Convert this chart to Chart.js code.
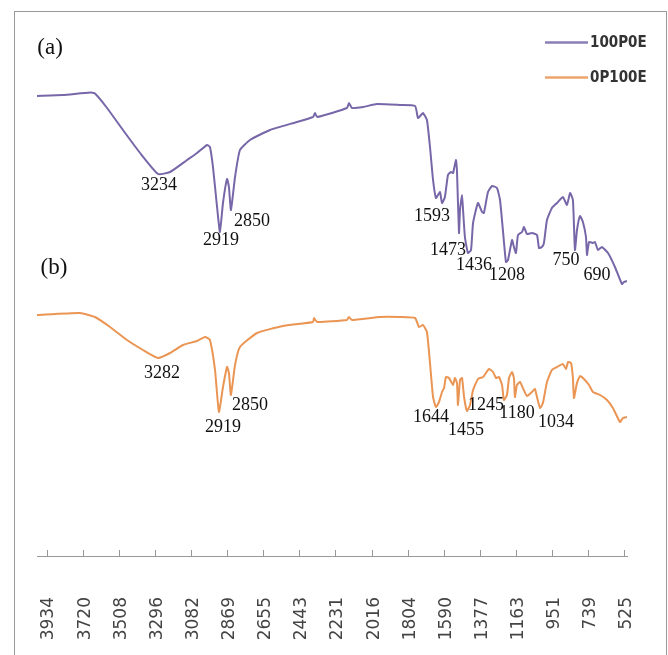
<!DOCTYPE html>
<html lang="en">
<head>
    <meta charset="UTF-8">
    <title>FTIR spectra</title>
    <script src="https://cdn.jsdelivr.net/npm/chart.js"></script>
    <style>
        html, body { margin: 0; padding: 0; background: #fff; overflow: hidden; }
        .chart-container { position: absolute; left: 0; top: 0; width: 668px; height: 655px; }
        .frame { position: absolute; left: 14px; top: 11px; width: 651px; height: 660px; border: 1px solid #999; pointer-events: none; }
    </style>
</head>
<body>
    <div class="chart-container">
        <canvas id="ftirChart"></canvas>
    </div>
    <div class="frame"></div>
    <script>
        // wavenumber ticks (cm-1)
        const tickValues = [3934, 3720, 3508, 3296, 3082, 2869, 2655, 2443, 2231, 2016, 1804, 1590, 1377, 1163, 951, 739, 525];

        // (a) 100P0E - wavenumber / transmittance (offset)
        const wnA = [3993, 3840, 3680, 3651, 3582, 3486, 3385, 3279, 3208, 3108, 3049, 2990, 2973, 2955, 2931, 2914, 2896, 2872, 2861, 2849,
            2825, 2796, 2737, 2619, 2460, 2365, 2353, 2341, 2165, 2153, 2135, 2070, 1988, 1852, 1763, 1746, 1728, 1716, 1693, 1675,
            1657, 1640, 1628, 1616, 1604, 1587, 1569, 1551, 1539, 1522, 1516, 1504, 1498, 1486, 1480, 1469, 1451, 1433, 1421, 1392,
            1368, 1357, 1333, 1309, 1280, 1262, 1245, 1227, 1215, 1191, 1180, 1168, 1156, 1132, 1121, 1103, 1074, 1044, 1032, 1015,
            1003, 985, 956, 926, 891, 867, 849, 832, 820, 808, 790, 773, 755, 749, 737, 714, 702, 684, 661, 625, 584, 543, 531, 513];
        const tA = [92.0, 92.2, 92.7, 92.5, 89.7, 85.2, 80.6, 76.4, 76.8, 79.2, 80.6, 82.2, 81.8, 77.8, 69.8, 64.8, 70.6, 75.4, 73.8, 69.2,
            75.8, 81.2, 83.2, 85.2, 86.8, 87.8, 88.6, 87.8, 89.6, 90.6, 89.6, 89.8, 90.4, 90.2, 90.0, 87.6, 88.2, 88.6, 87.2, 81.8,
            75.2, 71.6, 72.2, 72.8, 70.6, 71.8, 76.2, 76.8, 76.6, 79.2, 77.2, 64.6, 69.2, 72.2, 69.2, 63.8, 60.6, 61.2, 66.6, 70.6,
            68.8, 68.6, 72.8, 74.0, 73.6, 71.2, 65.2, 58.8, 59.2, 63.2, 61.8, 60.6, 64.2, 64.8, 65.8, 64.4, 64.6, 64.2, 61.6, 61.8,
            62.6, 67.2, 69.6, 70.6, 71.8, 70.2, 72.6, 71.2, 61.2, 65.2, 68.0, 66.8, 63.8, 60.2, 62.8, 62.6, 62.8, 61.2, 61.8, 60.6, 57.8, 54.4, 54.8, 55.0];

        // (b) 0P100E
        const wnB = [3993, 3739, 3651, 3562, 3462, 3368, 3279, 3208, 3132, 3049, 3002, 2973, 2943, 2920, 2896, 2872, 2861, 2849, 2825, 2796,
            2695, 2542, 2365, 2359, 2341, 2165, 2153, 2135, 1970, 1852, 1763, 1740, 1716, 1693, 1675, 1657, 1640, 1622, 1604, 1592,
            1581, 1563, 1539, 1528, 1516, 1510, 1498, 1486, 1474, 1457, 1439, 1421, 1392, 1362, 1345, 1327, 1303, 1286, 1268, 1250,
            1239, 1221, 1209, 1191, 1180, 1174, 1162, 1144, 1127, 1103, 1074, 1056, 1044, 1026, 1009, 985, 956, 926, 891, 873,
            861, 843, 832, 826, 808, 790, 767, 737, 714, 672, 631, 596, 554, 537, 513];
        const tB = [48.2, 48.6, 47.8, 45.8, 43.2, 41.2, 39.6, 40.6, 42.2, 43.0, 43.8, 43.2, 37.2, 28.8, 33.8, 37.8, 36.6, 32.2, 38.2, 41.8,
            44.6, 46.0, 46.8, 47.6, 46.8, 47.2, 47.8, 47.2, 47.8, 47.8, 47.6, 45.8, 46.2, 44.8, 38.6, 31.8, 29.8, 30.8, 32.8, 33.6,
            35.8, 35.6, 34.2, 35.6, 34.6, 30.2, 35.2, 35.6, 31.8, 29.0, 30.2, 33.2, 35.4, 35.8, 36.6, 37.4, 36.8, 35.6, 35.8, 34.2,
            31.2, 32.2, 35.6, 36.8, 35.6, 31.8, 34.2, 34.8, 33.6, 32.0, 32.8, 33.4, 31.8, 29.6, 30.6, 34.8, 37.2, 37.8, 38.4, 37.4,
            38.8, 38.6, 35.6, 31.6, 34.6, 36.0, 35.4, 34.2, 32.8, 32.2, 31.2, 29.6, 26.8, 27.6, 27.8];

        // peak annotations: text, wavenumber, transmittance
        const peakText = ['3234', '2919', '2850', '1593', '1473', '1436', '1208', '750', '690',
            '3282', '2919', '2850', '1644', '1455', '1245', '1180', '1034'];
        const peakWn = [3273, 2908, 2725, 1663, 1569, 1416, 1221, 873, 690,
            3256, 2896, 2737, 1669, 1463, 1345, 1162, 932];
        const peakT = [74.2, 63.2, 67.0, 68.0, 61.2, 58.2, 56.2, 59.2, 56.2,
            36.6, 25.8, 30.2, 27.8, 25.2, 30.2, 28.6, 26.8];

        const panelText = ['(a)', '(b)'];
        const panelWn = [3916, 3893];
        const panelT = [101.6, 57.6];

        const seriesNames = ['100P0E', '0P100E'];
        const seriesColors = ['#7767a8', '#ea9554'];

        const toPoints = (xs, ys) => xs.map((x, i) => ({ x: x, y: ys[i] }));

        const annotate = {
            id: 'annotate',
            afterDraw(chart) {
                const ctx = chart.ctx;
                const xs = chart.scales.x, ys = chart.scales.y;
                ctx.save();
                ctx.fillStyle = '#111';
                ctx.textAlign = 'center';
                ctx.textBaseline = 'middle';
                ctx.font = '18px "Liberation Serif", "Times New Roman", serif';
                peakText.forEach((t, i) => {
                    ctx.fillText(t, xs.getPixelForValue(peakWn[i]), ys.getPixelForValue(peakT[i]));
                });
                ctx.font = '23px "Liberation Serif", "Times New Roman", serif';
                panelText.forEach((t, i) => {
                    ctx.fillText(t, xs.getPixelForValue(panelWn[i]), ys.getPixelForValue(panelT[i]));
                });

                // legend, stacked in the top right corner
                ctx.textAlign = 'left';
                ctx.font = 'bold 15px "DejaVu Sans Condensed", "DejaVu Sans", sans-serif';
                chart.data.datasets.forEach((ds, i) => {
                    const y = 42.5 + i * 35;
                    ctx.strokeStyle = ds.borderColor;
                    ctx.globalAlpha = 0.85;
                    ctx.lineWidth = 2.5;
                    ctx.beginPath();
                    ctx.moveTo(545, y);
                    ctx.lineTo(588, y);
                    ctx.stroke();
                    ctx.globalAlpha = 1;
                    ctx.fillStyle = '#333';
                    ctx.fillText(ds.label, 590, y + 1);
                });
                ctx.restore();
            }
        };

        const ctx = document.getElementById('ftirChart').getContext('2d');
        new Chart(ctx, {
            type: 'line',
            data: {
                datasets: [
                    { label: seriesNames[0], data: toPoints(wnA, tA), borderColor: seriesColors[0], borderWidth: 2, pointRadius: 0, tension: 0.15 },
                    { label: seriesNames[1], data: toPoints(wnB, tB), borderColor: seriesColors[1], borderWidth: 2, pointRadius: 0, tension: 0.15 }
                ]
            },
            options: {
                responsive: true,
                maintainAspectRatio: false,
                animation: false,
                layout: { padding: { left: 37, right: 41, top: 56, bottom: 0 } },
                plugins: {
                    legend: { display: false },
                    tooltip: { enabled: false }
                },
                scales: {
                    x: {
                        type: 'linear',
                        reverse: true,
                        min: 513,
                        max: 3993,
                        afterBuildTicks(scale) {
                            scale.ticks = tickValues.map(v => ({ value: v }));
                        },
                        afterFit(scale) {
                            // fixed axis band, no extra side padding for the rotated labels
                            scale.height = 99;
                            scale.paddingLeft = 0;
                            scale.paddingRight = 0;
                        },
                        border: { display: true, color: '#999', width: 1 },
                        grid: { drawOnChartArea: false, tickLength: -6, color: '#999' },
                        ticks: {
                            autoSkip: false,
                            maxRotation: 90,
                            minRotation: 90,
                            padding: 47,
                            labelOffset: 2,
                            color: '#444',
                            font: { family: '"DejaVu Sans", sans-serif', size: 17 },
                            callback: v => String(v)
                        }
                    },
                    y: {
                        display: false,
                        min: 0,
                        max: 100
                    }
                }
            },
            plugins: [annotate]
        });
    </script>
</body>
</html>
